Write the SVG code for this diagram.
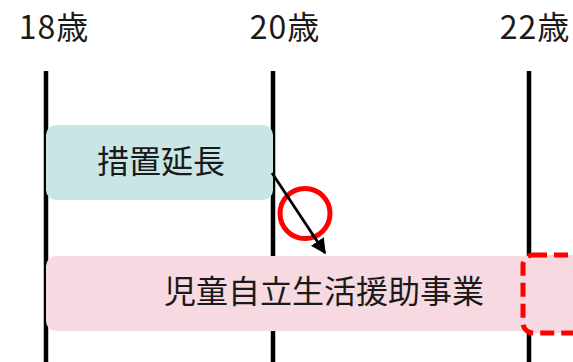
<svg xmlns="http://www.w3.org/2000/svg" width="573" height="362" viewBox="0 0 573 362">
<defs>
<style>
.lbl{font-family:"Noto Sans CJK JP","Noto Sans",sans-serif;font-size:32px;fill:#1a1a1a;text-anchor:middle}
.age{letter-spacing:1px}
.vl{stroke:#000;stroke-width:4.5}
</style>
<marker id="ah" viewBox="0 0 10 10" refX="9" refY="5" markerWidth="5.5" markerHeight="5.5" orient="auto" markerUnits="strokeWidth">
<path d="M0,0 L10,5 L0,10 Z" fill="#000"/>
</marker>
</defs>
<rect width="573" height="362" fill="#fff"/>
<g id="axis">
<text class="lbl age" x="54" y="39">18歳</text>
<text class="lbl age" x="285" y="39">20歳</text>
<text class="lbl age" x="535" y="39">22歳</text>
<line class="vl" x1="46" y1="71" x2="46" y2="362"/>
<line class="vl" x1="273" y1="71" x2="273" y2="362"/>
<line class="vl" x1="529" y1="71" x2="529" y2="362"/>
</g>
<g id="sochi">
<rect x="46" y="125" width="227" height="75" rx="10" fill="#c8e6e6"/>
<text class="lbl" x="161" y="173">措置延長</text>
</g>
<g id="jiritsu">
<rect x="46" y="256" width="520" height="75" rx="10" fill="#f7d9e1"/>
<text class="lbl" x="324" y="303">児童自立生活援助事業</text>
</g>
<g id="extension">
<rect x="523" y="255" width="70" height="78" rx="10" fill="#f7d9e1" stroke="#ff0000" stroke-width="5" stroke-dasharray="14,7"/>
</g>
<g id="prohibit">
<circle cx="305" cy="213.5" r="25" fill="none" stroke="#ff0000" stroke-width="5"/>
</g>
<g id="connectors">
<line x1="272" y1="173" x2="325" y2="253" stroke="#000" stroke-width="2.8" marker-end="url(#ah)"/>
</g>
</svg>
